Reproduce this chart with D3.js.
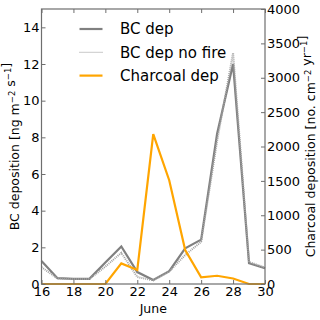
<!DOCTYPE html>
<html>
<head>
<meta charset="utf-8">
<script src="https://cdn.jsdelivr.net/npm/d3@7"></script>
<style>
  body { margin: 0; background: #fff; }
  svg { display: block; font-family: "DejaVu Sans", sans-serif; }
</style>
</head>
<body>
<div id="chart"></div>
<script>
const width = 320;
const height = 320;

// data
const days = [16, 17, 18, 19, 20, 21, 22, 23, 24, 25, 26, 27, 28, 29, 30];
const bcDep = [1.25, 0.32, 0.28, 0.28, 1.17, 2.05, 0.65, 0.22, 0.7, 1.95, 2.42, 8.2, 12.0, 1.13, 0.86];
const bcDepNoFire = [0.92, 0.3, 0.27, 0.27, 0.95, 1.7, 0.38, 0.2, 0.68, 1.58, 2.3, 7.8, 12.6, 1.2, 0.9];
const charcoalDep = [0, 0, 0, 0, 0, 300, 204, 2180, 1510, 495, 97, 120, 80, 0, 0];

const xTicks = [16, 18, 20, 22, 24, 26, 28, 30];
const yLeftTicks = [0, 2, 4, 6, 8, 10, 12, 14];
const yRightTicks = [0, 500, 1000, 1500, 2000, 2500, 3000, 3500, 4000];

const legendItems = [
  { name: "BC dep", color: "#808080", dash: null, width: 2.2 },
  { name: "BC dep no fire", color: "#a8a8a8", dash: "1,1", width: 1.2 },
  { name: "Charcoal dep", color: "#ffa500", dash: null, width: 2.2 }
];

const margin = { top: 9, right: 55, bottom: 36, left: 41.5 };
const innerW = width - margin.left - margin.right;
const innerH = height - margin.top - margin.bottom;

const x = d3.scaleLinear().domain([16, 30]).range([0, innerW]);
const yL = d3.scaleLinear().domain([0, 15]).range([innerH, 0]);
const yR = d3.scaleLinear().domain([0, 4000]).range([innerH, 0]);

const svg = d3.select("#chart").append("svg")
    .attr("width", width)
    .attr("height", height);

const g = svg.append("g")
    .attr("transform", `translate(${margin.left},${margin.top})`);

const axisColor = "#6e6e6e";

// lines
const lineL = d3.line().x((d, i) => x(days[i])).y(d => yL(d));
const lineR = d3.line().x((d, i) => x(days[i])).y(d => yR(d));

g.append("path")
    .datum(bcDep)
    .attr("fill", "none")
    .attr("stroke", "#808080")
    .attr("stroke-width", 2.2)
    .attr("d", lineL);

g.append("path")
    .datum(bcDepNoFire)
    .attr("fill", "none")
    .attr("stroke", "#a0a0a0")
    .attr("stroke-width", 2)
    .attr("stroke-dasharray", "1,1")
    .attr("d", lineL);

g.append("path")
    .datum(charcoalDep)
    .attr("fill", "none")
    .attr("stroke", "#ffa500")
    .attr("stroke-width", 2.2)
    .attr("d", lineR);

// axes, ticks inside
function styleAxis(sel) {
  sel.select(".domain").remove();
  sel.selectAll(".tick line").attr("stroke", axisColor);
  sel.selectAll(".tick text")
      .attr("fill", "#000")
      .style("font-family", "'DejaVu Sans', sans-serif")
      .style("font-size", "13px");
}

g.append("g")
    .attr("transform", `translate(0,${innerH})`)
    .call(d3.axisBottom(x).tickValues(xTicks).tickSizeInner(-4).tickSizeOuter(0).tickPadding(3))
    .call(styleAxis);

g.append("g")
    .call(d3.axisTop(x).tickValues(xTicks).tickSizeInner(-4).tickSizeOuter(0).tickFormat(""))
    .call(styleAxis);

g.append("g")
    .call(d3.axisLeft(yL).tickValues(yLeftTicks).tickSizeInner(-4).tickSizeOuter(0).tickPadding(2))
    .call(styleAxis);

g.append("g")
    .attr("transform", `translate(${innerW},0)`)
    .call(d3.axisRight(yR).tickValues(yRightTicks).tickFormat(d3.format("d"))
        .tickSizeInner(-4).tickSizeOuter(0).tickPadding(2))
    .call(styleAxis);

// frame
g.append("rect")
    .attr("width", innerW)
    .attr("height", innerH)
    .attr("fill", "none")
    .attr("stroke", axisColor)
    .attr("stroke-width", 1.2);

// legend
const legend = g.append("g").attr("transform", "translate(38,20)");
legendItems.forEach((d, i) => {
  const row = legend.append("g").attr("transform", `translate(0,${i * 23.3})`);
  row.append("line")
      .attr("x1", 0).attr("x2", 23)
      .attr("stroke", d.color)
      .attr("stroke-width", d.width)
      .attr("stroke-dasharray", d.dash);
  row.append("text")
      .attr("x", 40.5)
      .attr("dy", "0.36em")
      .style("font-size", "15px")
      .text(d.name);
});

// axis labels
svg.append("text")
    .attr("x", margin.left + innerW / 2)
    .attr("y", 313)
    .attr("text-anchor", "middle")
    .style("font-size", "12.5px")
    .text("June");

function supLabel(xPos, parts) {
  const t = svg.append("text")
      .attr("transform", `translate(${xPos},${margin.top + innerH / 2}) rotate(-90)`)
      .attr("text-anchor", "middle")
      .style("font-size", "12.5px");
  parts.forEach(p => {
    if (p.sup) {
      t.append("tspan").attr("dy", -4).style("font-size", "8.5px").text(p.text);
      t.append("tspan").attr("dy", 4).text("");
    } else {
      t.append("tspan").text(p.text);
    }
  });
}

supLabel(19, [
  { text: "BC deposition [ng m" }, { text: "\u22122", sup: true },
  { text: " s" }, { text: "\u22121", sup: true }, { text: "]" }
]);

supLabel(315, [
  { text: "Charcoal deposition [no. cm" }, { text: "\u22122", sup: true },
  { text: " yr" }, { text: "\u22121", sup: true }, { text: "]" }
]);
</script>
</body>
</html>
